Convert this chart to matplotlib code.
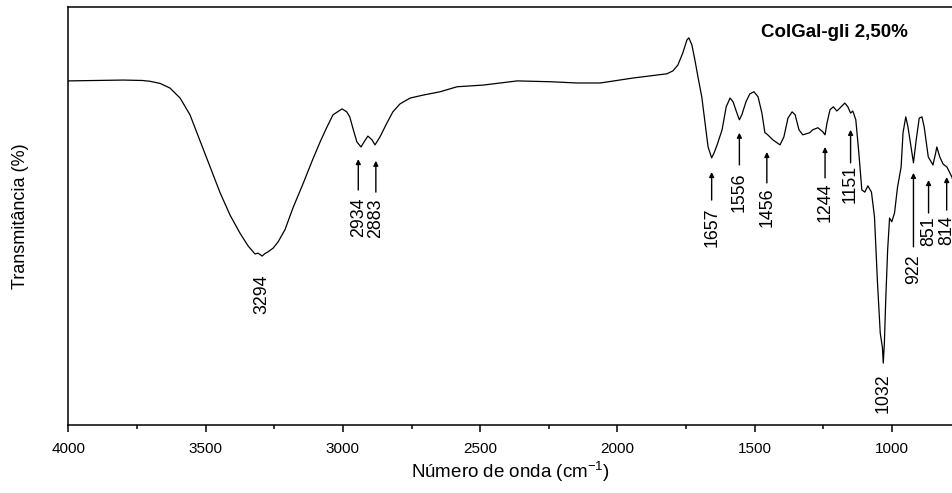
import matplotlib
matplotlib.use('Agg')
import matplotlib.pyplot as plt
from matplotlib.ticker import MultipleLocator

plt.rcParams['font.family'] = ['Liberation Sans', 'DejaVu Sans']
plt.rcParams['mathtext.default'] = 'regular'

# FTIR spectrum, ColGal-gli 2,50%
wavenumber = [4000, 3900, 3800, 3730, 3702, 3666, 3630, 3593, 3557, 3520,
              3484, 3447, 3411, 3375, 3345, 3320, 3309, 3294, 3284, 3273,
              3254, 3236, 3211, 3182, 3144, 3110, 3083, 3060, 3036, 3003,
              2986, 2975, 2962, 2949, 2934, 2923, 2909, 2894, 2883, 2865,
              2840, 2818, 2792, 2755, 2708, 2646, 2584, 2489, 2365, 2245,
              2147, 2063, 1942, 1880, 1820, 1798, 1780, 1762, 1747, 1740,
              1729, 1718, 1707, 1693, 1681, 1670, 1657, 1648, 1637, 1619,
              1604, 1590, 1579, 1565, 1556, 1547, 1532, 1518, 1503, 1488,
              1474, 1463, 1456, 1434, 1408, 1394, 1379, 1364, 1353, 1339,
              1325, 1300, 1289, 1270, 1252, 1244, 1237, 1226, 1214, 1201,
              1190, 1172, 1161, 1151, 1143, 1132, 1121, 1110, 1099, 1088,
              1075, 1064, 1053, 1043, 1035, 1032, 1028, 1023, 1016, 1009,
              1001, 991, 980, 967, 960, 950, 942, 932, 922, 912,
              901, 891, 883, 868, 851, 841, 837, 826, 814, 800,
              782, 778]
transmittance = [82.3, 82.4, 82.5, 82.4, 82.2, 81.7, 80.6, 78.2, 74.2, 67.9,
                 61.7, 55.5, 50.2, 45.9, 42.8, 40.9, 41.1, 40.4, 41.0, 41.4,
                 42.3, 43.8, 46.7, 51.9, 57.9, 63.5, 67.7, 71.0, 74.2, 75.6,
                 74.9, 73.7, 70.6, 67.7, 66.5, 67.7, 69.1, 68.2, 67.0, 68.9,
                 72.2, 74.9, 76.8, 78.2, 78.9, 79.7, 80.9, 81.3, 82.3, 82.1,
                 81.8, 81.8, 83.0, 83.5, 84.0, 84.7, 86.1, 89.0, 92.1, 92.6,
                 90.9, 87.3, 83.3, 78.5, 72.2, 66.5, 63.9, 65.1, 67.0, 70.6,
                 76.1, 78.2, 77.3, 74.6, 73.0, 74.2, 77.3, 79.2, 79.7, 78.5,
                 74.6, 69.9, 69.6, 68.2, 67.0, 68.9, 73.4, 74.9, 74.2, 70.6,
                 69.4, 69.9, 70.6, 71.1, 70.1, 69.4, 72.2, 75.4, 76.1, 75.1,
                 75.8, 77.0, 76.1, 74.6, 75.1, 73.0, 65.1, 56.2, 55.7, 57.2,
                 55.7, 49.8, 34.0, 22.0, 18.5, 14.8, 19.5, 29.9, 41.9, 49.5,
                 48.6, 50.7, 56.9, 61.7, 69.9, 73.7, 71.3, 67.0, 62.7, 68.2,
                 73.4, 73.7, 71.3, 64.1, 62.2, 65.1, 66.5, 64.1, 62.4, 61.7,
                 59.3, 58.5]

# labelled bands: (value, x of arrow/label, arrow head, arrow tail, top of label)
bands = [
    (3294, 3294, None, None, 35.9),
    (2934, 2944, 63.6, 56.2, 54.3),
    (2883, 2880, 63.2, 55.7, 54.1),
    (1657, 1657, 60.5, 53.8, 51.9),
    (1556, 1556, 69.9, 62.2, 60.5),
    (1456, 1456, 65.3, 57.9, 56.9),
    (1244, 1244, 66.5, 59.1, 58.1),
    (1151, 1151, 70.6, 62.7, 62.2),
    (1032, 1032, None, None, 12.4),
    (922, 922, 60.3, 42.6, 40.7),
    (851, 867, 58.6, 50.7, 49.8),
    (814, 801, 59.3, 51.4, 50.2),
]

fig = plt.figure(figsize=(9.53, 4.93), dpi=100)
ax = fig.add_axes([0.0717, 0.138, 0.9283, 0.848])
ax.plot(wavenumber, transmittance, color='black', lw=0.9)

for value, xpos, head, tail, top in bands:
    if head is not None:
        ax.annotate('', xy=(xpos, head), xytext=(xpos, tail),
                    arrowprops=dict(arrowstyle='-|>', color='black', lw=1.0,
                                    mutation_scale=7, shrinkA=0, shrinkB=0))
    ax.text(xpos, top, str(value), rotation=90, ha='center', va='top',
            fontsize=12.8)

ax.text(0.8655, 0.938, 'ColGal-gli 2,50%', transform=ax.transAxes,
        ha='center', va='center', fontsize=13.5, fontweight='bold')

ax.set_xlim(4000, 778)
ax.set_ylim(0, 100)
ax.xaxis.set_major_locator(MultipleLocator(500))
ax.xaxis.set_minor_locator(MultipleLocator(250))
ax.tick_params(axis='x', which='major', direction='out', length=5, width=1.1,
               labelsize=11, pad=7)
ax.tick_params(axis='x', which='minor', direction='out', length=3, width=1.1)
ax.set_yticks([])
ax.spines['right'].set_visible(False)
for s in ('left', 'top', 'bottom'):
    ax.spines[s].set_linewidth(1.1)

ax.set_xlabel('Número de onda (cm$^{-1}$)', fontsize=13.5, labelpad=3)
ax.set_ylabel('Transmitância (%)', fontsize=13)
ax.yaxis.set_label_coords(-0.044, 0.5)

fig.savefig('out.png', dpi=100)
